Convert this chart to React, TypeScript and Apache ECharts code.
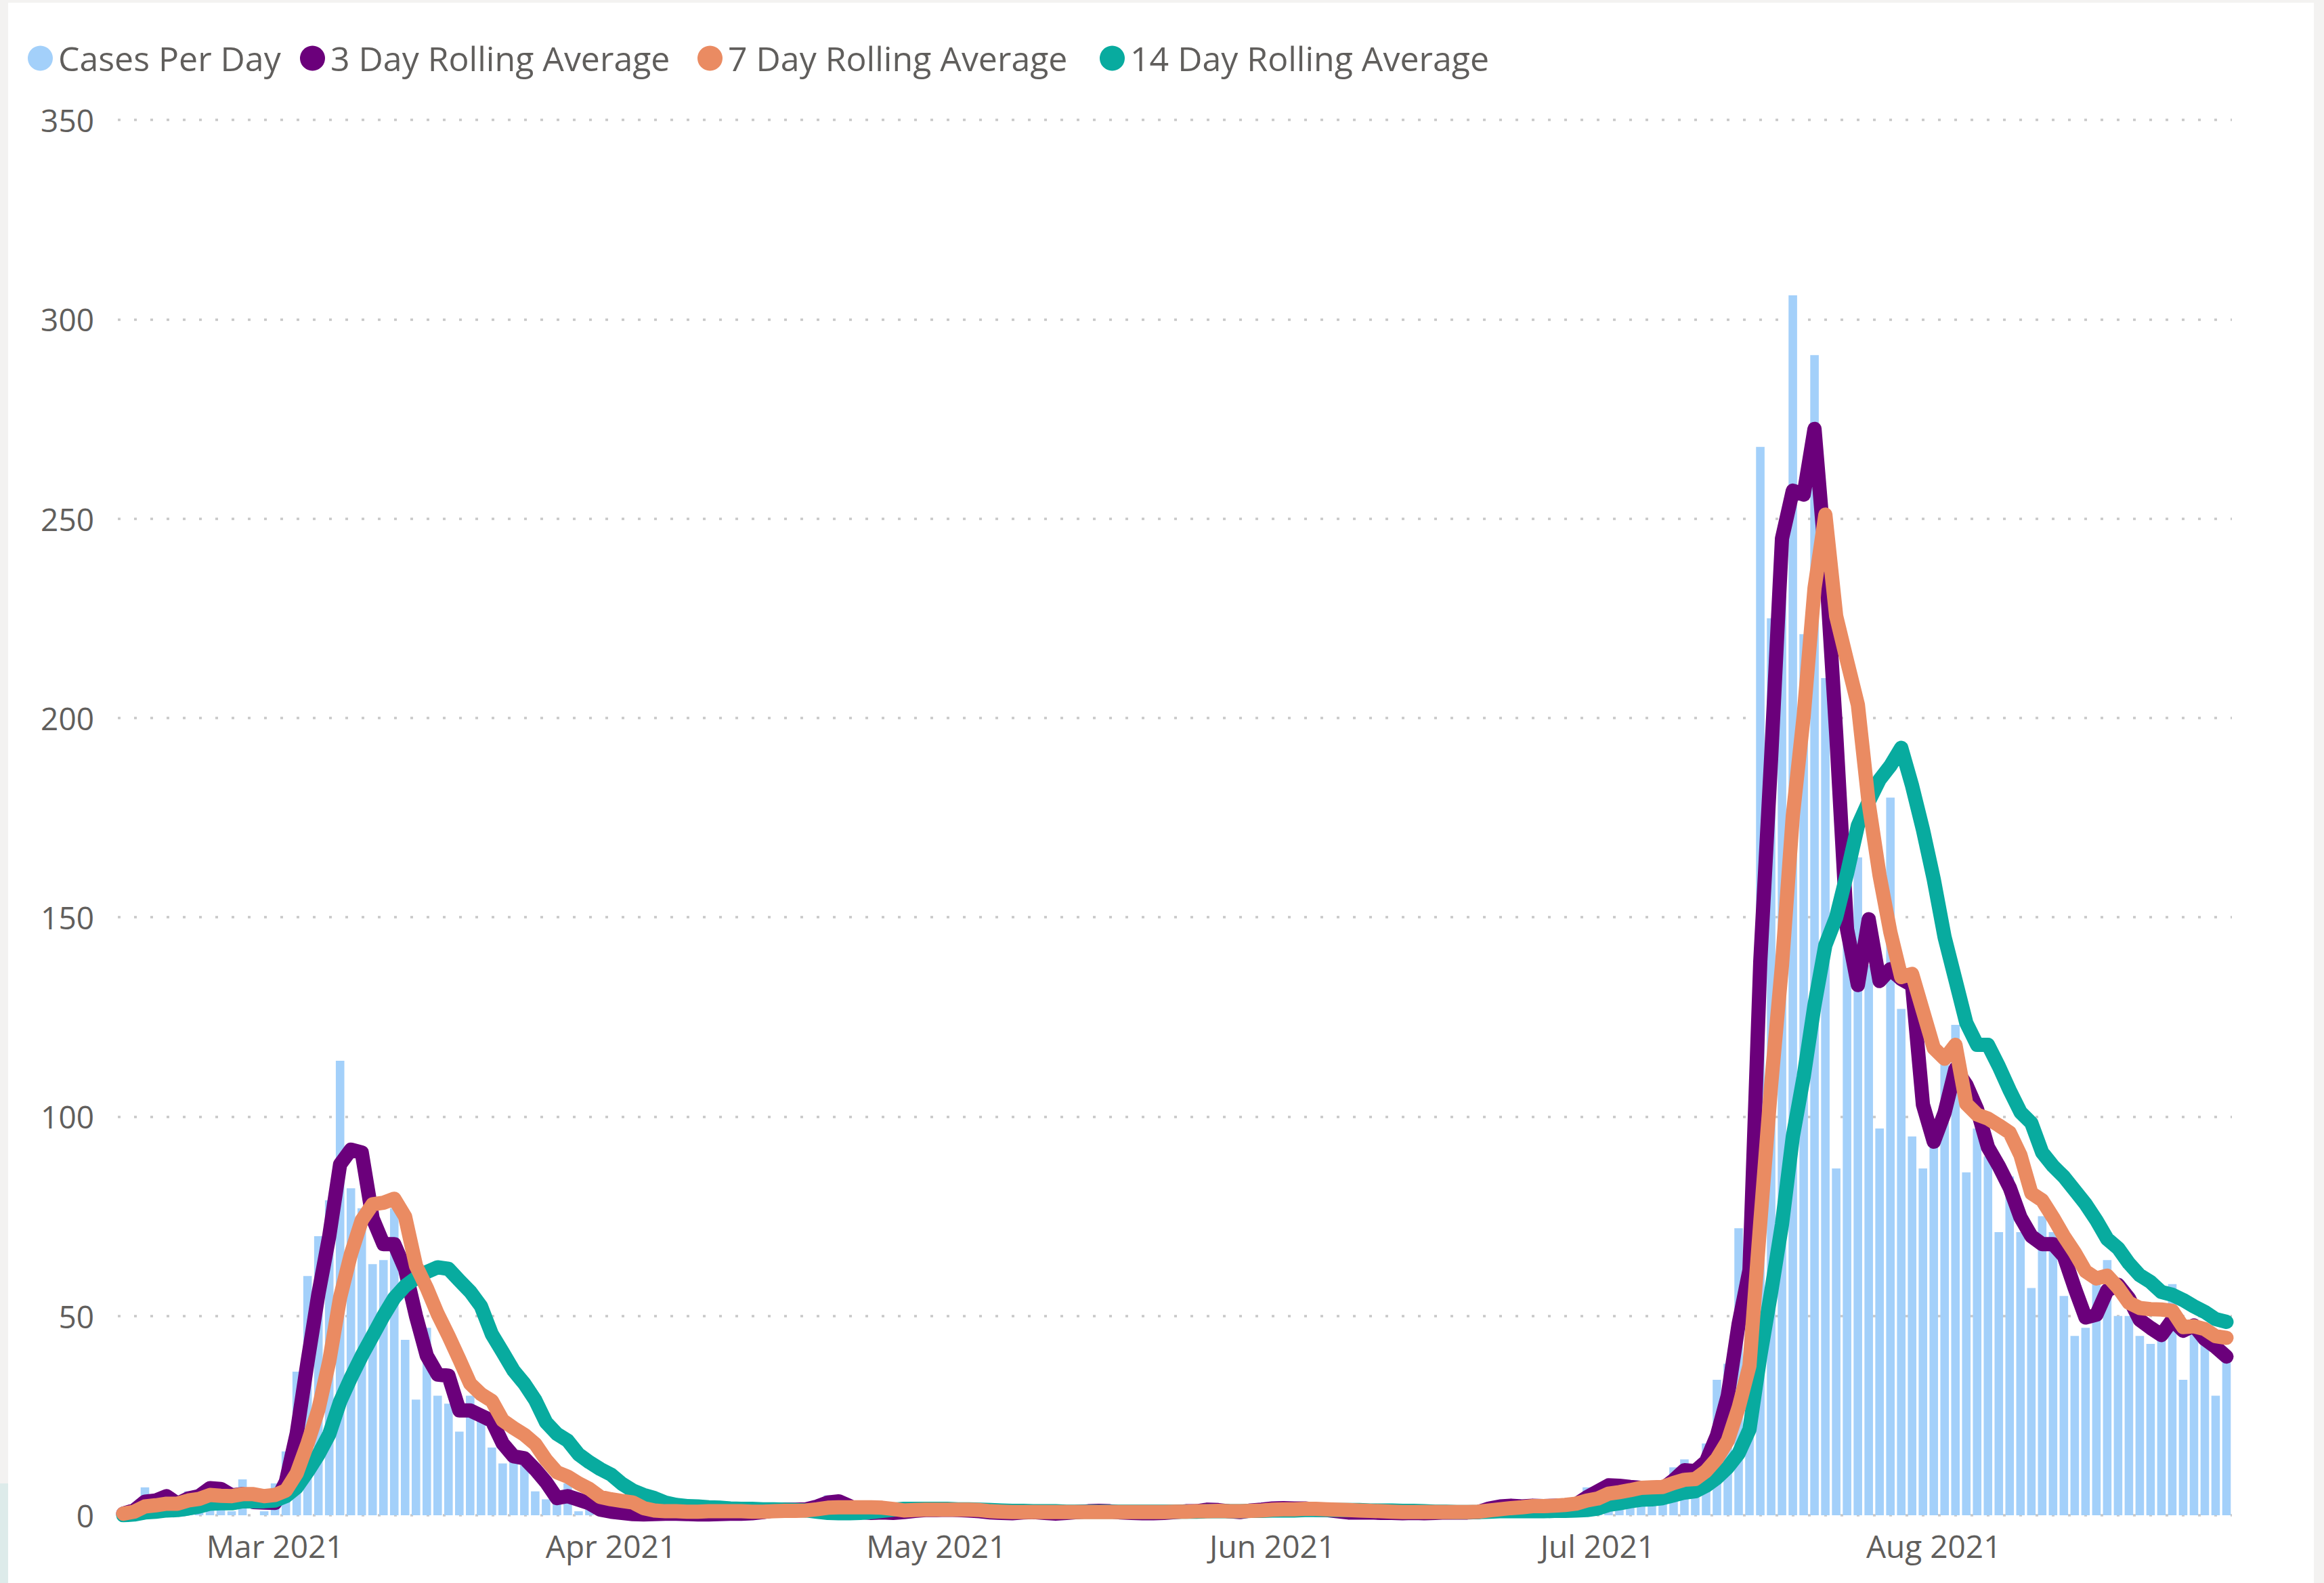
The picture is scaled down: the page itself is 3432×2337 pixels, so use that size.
import React, { useEffect, useRef } from "react";
import * as echarts from "echarts";

const START = { y: 2021, m: 1, d: 15 }; // Feb 15 2021 (month 0-based)
const DAY_COUNT = 195;
const MONTHS = ["Jan", "Feb", "Mar", "Apr", "May", "Jun", "Jul", "Aug", "Sep", "Oct", "Nov", "Dec"];

const casesPerDay = [
  1, 2, 7, 2, 5, 2, 6, 6, 8, 6,
  1, 9, 0, 1, 8, 16, 36, 60, 70, 79,
  114, 82, 77, 63, 64, 77, 44, 29, 47, 30,
  28, 21, 30, 24, 17, 13, 14, 13, 6, 4,
  3, 8, 1, 2, 1, 0, 1, 0, 0, 0,
  1, 0, 0, 0, 0, 0, 1, 0, 0, 1,
  1, 2, 1, 1, 2, 5, 2, 0, 0, 1,
  1, 0, 1, 2, 1, 1, 2, 1, 1, 1,
  0, 1, 0, 1, 1, 0, 0, 1, 1, 1,
  1, 1, 0, 1, 0, 0, 1, 1, 1, 1,
  2, 1, 0, 1, 2, 1, 2, 2, 1, 2,
  1, 1, 1, 0, 1, 1, 0, 1, 0, 1,
  0, 1, 1, 0, 1, 1, 3, 2, 2, 2,
  3, 2, 2, 3, 3, 7, 7, 8, 7, 6,
  8, 6, 7, 12, 14, 7, 18, 34, 38, 72,
  76, 268, 225, 241, 306, 221, 291, 210, 87, 145,
  165, 138, 97, 180, 127, 95, 87, 94, 117, 123,
  86, 97, 90, 71, 85, 71, 57, 75, 71, 55,
  45, 47, 58, 64, 50, 50, 45, 43, 44, 58,
  34, 49, 45, 30, 41,
];

const rolling3 = [
  0.4, 1.2, 3.4, 3.7, 4.8, 2.9, 4.2, 4.8, 6.8, 6.6,
  5.0, 5.3, 3.3, 3.2, 3.1, 8.4, 20.5, 38.5, 55.5, 70.0,
  88.0, 91.7, 91.0, 74.5, 68.0, 68.0, 61.7, 50.0, 40.0, 35.3,
  35.0, 26.3, 26.3, 25.0, 23.7, 18.0, 14.8, 14.3, 11.5, 8.3,
  4.3, 4.8, 3.9, 3.0, 1.4, 0.9, 0.6, 0.3, 0.2, 0.3,
  0.4, 0.4, 0.3, 0.2, 0.2, 0.3, 0.4, 0.4, 0.5, 0.8,
  1.2, 1.4, 1.4, 1.5, 2.2, 3.2, 3.5, 2.3, 0.8, 0.6,
  0.7, 0.6, 0.8, 1.1, 1.3, 1.3, 1.4, 1.3, 1.2, 1.0,
  0.7, 0.6, 0.5, 0.7, 0.8, 0.6, 0.4, 0.6, 0.8, 1.0,
  1.1, 1.0, 0.7, 0.6, 0.5, 0.5, 0.6, 0.8, 1.0, 1.0,
  1.4, 1.3, 1.0, 0.8, 1.2, 1.4, 1.7, 1.8, 1.7, 1.7,
  1.4, 1.3, 1.0, 0.7, 0.7, 0.7, 0.6, 0.6, 0.5, 0.6,
  0.5, 0.6, 0.7, 0.7, 0.7, 0.8, 1.7, 2.2, 2.4, 2.2,
  2.4, 2.3, 2.4, 2.5, 2.7, 4.5, 6.0, 7.5, 7.4, 7.1,
  6.9, 6.8, 6.7, 8.8, 11.3, 11.1, 13.5, 20.0, 30.0, 48.0,
  61.5, 139.0, 190.0, 245.0, 257.0, 256.0, 272.5, 240.0, 196.0, 147.0,
  133.0, 149.5, 134.0, 137.0, 134.5, 133.0, 103.0, 93.7, 101.0, 112.0,
  108.0, 101.8, 92.3, 87.6, 82.2, 74.7, 70.0, 68.0, 68.0, 65.0,
  57.0, 49.6, 50.3, 56.4, 57.8, 54.4, 49.0, 47.0, 45.2, 49.0,
  46.3, 47.6, 44.2, 42.2, 39.8,
];

const rolling7 = [
  0.4, 0.9, 2.2, 2.5, 2.9, 2.9, 3.7, 4.1, 5.1, 4.9,
  4.8, 5.3, 5.3, 4.8, 5.1, 6.2, 10.5, 18.0, 26.5, 38.6,
  54.6, 65.5, 74.0, 78.0, 78.4, 79.4, 74.9, 62.6, 57.0, 50.5,
  45.0, 39.1, 33.0, 30.4, 28.7, 23.8, 21.9, 20.2, 17.9, 13.9,
  10.8, 9.7, 8.0, 6.6, 4.6, 4.0, 3.6, 3.2, 1.8, 1.2,
  1.0, 1.0, 0.9, 0.9, 1.0, 1.0, 1.0, 1.0, 0.9, 0.9,
  1.0, 1.1, 1.1, 1.2, 1.5, 1.9, 2.0, 2.0, 2.0, 2.0,
  1.9, 1.6, 1.2, 1.3, 1.4, 1.4, 1.4, 1.4, 1.4, 1.3,
  1.0, 0.9, 0.8, 0.8, 0.8, 0.8, 0.8, 0.8, 0.8, 0.8,
  0.8, 0.8, 0.8, 0.8, 0.8, 0.8, 0.8, 0.9, 0.9, 1.0,
  1.0, 1.1, 1.0, 1.0, 1.1, 1.2, 1.4, 1.5, 1.5, 1.6,
  1.6, 1.5, 1.4, 1.3, 1.2, 1.1, 1.0, 0.9, 0.8, 0.8,
  0.8, 0.8, 0.8, 0.8, 0.8, 0.9, 1.2, 1.5, 1.8, 2.0,
  2.3, 2.3, 2.4, 2.6, 2.9, 3.7, 4.2, 5.4, 5.8, 6.3,
  6.9, 7.0, 7.1, 8.1, 8.9, 9.1, 11.1, 14.2, 18.7, 27.0,
  37.5, 73.5, 108.0, 138.0, 175.5, 200.5, 232.5, 251.0, 225.5, 214.3,
  203.3, 178.5, 160.5, 146.2, 135.0, 135.8, 126.5, 117.2, 114.5, 118.0,
  103.2, 100.5, 99.5, 97.8, 96.0, 90.3, 80.8, 79.0, 74.7, 70.0,
  65.9, 61.2, 59.4, 60.1, 57.1, 53.3, 52.0, 51.7, 51.6, 51.3,
  47.2, 47.4, 46.7, 44.9, 44.5,
];

const rolling14 = [
  0.0, 0.2, 0.7, 0.9, 1.2, 1.3, 1.7, 2.2, 2.9, 3.0,
  3.0, 3.5, 3.5, 3.5, 3.7, 4.8, 7.0, 10.9, 15.2, 20.3,
  28.5, 34.5, 40.0, 45.0, 50.0, 54.5, 57.5, 59.5, 61.0, 62.2,
  61.8, 58.9, 56.1, 52.4, 45.4, 40.9, 36.3, 33.0, 28.9, 23.3,
  20.4, 18.7, 15.3, 13.3, 11.6, 10.2, 7.9, 6.2, 5.1, 4.3,
  3.2, 2.6, 2.3, 2.2, 2.0, 1.9, 1.7, 1.6, 1.6, 1.5,
  1.5, 1.4, 1.3, 1.2, 0.9, 0.6, 0.5, 0.5, 0.6, 0.8,
  1.1, 1.4, 1.6, 1.6, 1.6, 1.6, 1.6, 1.5, 1.5, 1.4,
  1.3, 1.2, 1.1, 1.1, 1.0, 1.0, 1.0, 0.9, 0.9, 0.9,
  0.9, 0.9, 0.9, 0.9, 0.9, 0.9, 0.9, 0.9, 0.9, 0.9,
  1.0, 1.0, 1.0, 1.0, 1.1, 1.1, 1.2, 1.2, 1.2, 1.3,
  1.3, 1.3, 1.3, 1.3, 1.3, 1.2, 1.2, 1.2, 1.1, 1.1,
  1.0, 0.9, 0.9, 0.8, 0.8, 0.8, 0.9, 1.0, 1.0, 1.0,
  1.0, 1.0, 1.1, 1.1, 1.2, 1.3, 1.7, 2.6, 3.0, 3.5,
  3.9, 4.0, 4.3, 5.0, 5.7, 6.0, 7.4, 9.4, 12.0, 15.5,
  21.5, 40.0, 56.0, 73.0, 95.0, 110.0, 128.0, 143.0, 150.0, 161.0,
  173.0, 179.0, 184.5, 188.0, 192.5, 183.0, 172.0, 159.5, 145.0, 134.3,
  123.5, 118.0, 118.0, 112.6, 106.6, 101.1, 98.4, 91.0, 87.6, 84.9,
  81.5, 78.1, 74.0, 69.3, 67.0, 63.2, 60.2, 58.5, 56.0, 55.3,
  54.0, 52.4, 51.0, 49.2, 48.5,
];

const yTicks = [0, 50, 100, 150, 200, 250, 300, 350];

const seriesNames = ["Cases Per Day", "3 Day Rolling Average", "7 Day Rolling Average", "14 Day Rolling Average"];
const seriesColors = ["#A3D0FA", "#6B007B", "#EA8B62", "#08AB9F"];

function buildDates(): { key: string; day: number; label: string }[] {
  const out: { key: string; day: number; label: string }[] = [];
  for (let i = 0; i < DAY_COUNT; i++) {
    const dt = new Date(Date.UTC(START.y, START.m, START.d + i));
    out.push({
      key: dt.toISOString().slice(0, 10),
      day: dt.getUTCDate(),
      label: MONTHS[dt.getUTCMonth()] + " " + dt.getUTCFullYear(),
    });
  }
  return out;
}

const FONT = "'Open Sans', 'Noto Sans', 'DejaVu Sans', sans-serif";
const TEXT_COLOR = "#605E5C";
const LEGEND_LEFTS = [36, 438, 1025, 1619];
const LINE_WIDTH = 21;

export default function App() {
  const ref = useRef<HTMLDivElement | null>(null);

  useEffect(() => {
    if (!ref.current) return;
    const chart = echarts.init(ref.current, undefined, { renderer: "svg" });
    const dates = buildDates();
    const cats = dates.map((d) => d.key);

    const lineSeries = (idx: number, data: number[], z: number) => ({
      name: seriesNames[idx],
      type: "line",
      data,
      showSymbol: false,
      symbol: "none",
      z,
      itemStyle: { color: seriesColors[idx] },
      lineStyle: { color: seriesColors[idx], width: LINE_WIDTH, cap: "round", join: "round" },
    });

    const legends = seriesNames.map((name, i) => ({
      data: [name],
      left: LEGEND_LEFTS[i],
      top: 56,
      icon: "circle",
      itemWidth: 37,
      itemHeight: 37,
      itemGap: 0,
      selectedMode: false,
      textStyle: {
        fontFamily: FONT,
        fontSize: 50,
        color: TEXT_COLOR,
        padding: [0, 0, 0, 3],
      },
    }));

    chart.setOption({
      animation: false,
      backgroundColor: "#FFFFFF",
      textStyle: { fontFamily: FONT },
      legend: legends,
      graphic: [
        { type: "rect", shape: { x: 0, y: 0, width: 3432, height: 4 }, style: { fill: "#F3F2F1" }, silent: true },
        { type: "rect", shape: { x: 0, y: 0, width: 12, height: 2190 }, style: { fill: "#F3F2F1" }, silent: true },
        { type: "rect", shape: { x: 0, y: 2190, width: 12, height: 147 }, style: { fill: "#DDEBEA" }, silent: true },
        { type: "rect", shape: { x: 3417, y: 0, width: 15, height: 2337 }, style: { fill: "#F3F2F1" }, silent: true },
      ],
      grid: { left: 174, right: 136, top: 177, bottom: 100, containLabel: false },
      xAxis: {
        type: "category",
        data: cats,
        boundaryGap: true,
        axisLine: { show: false },
        axisTick: { show: false },
        splitLine: { show: false },
        axisLabel: {
          interval: (index: number) => dates[index].day === 1,
          formatter: (_v: string, index: number) => dates[index].label,
          fontFamily: FONT,
          fontSize: 46,
          color: TEXT_COLOR,
          margin: 22,
        },
      },
      yAxis: {
        type: "value",
        min: yTicks[0],
        max: yTicks[yTicks.length - 1],
        interval: 50,
        axisLine: { show: false },
        axisTick: { show: false },
        axisLabel: {
          fontFamily: FONT,
          fontSize: 46,
          color: TEXT_COLOR,
          margin: 35,
        },
        splitLine: {
          show: true,
          lineStyle: { color: "#C8C8C8", width: 3.5, type: [4, 20] },
        },
      },
      series: [
        {
          name: seriesNames[0],
          type: "bar",
          data: casesPerDay,
          barWidth: 12.6,
          z: 1,
          itemStyle: { color: seriesColors[0] },
        },
        lineSeries(1, rolling3, 2),
        lineSeries(3, rolling14, 3),
        lineSeries(2, rolling7, 4),
      ],
    });

    return () => {
      chart.dispose();
    };
  }, []);

  return (
    <div
      ref={ref}
      style={{
        position: "fixed",
        left: 0,
        top: 0,
        width: 3432,
        height: 2337,
        background: "#FFFFFF",
      }}
    />
  );
}
